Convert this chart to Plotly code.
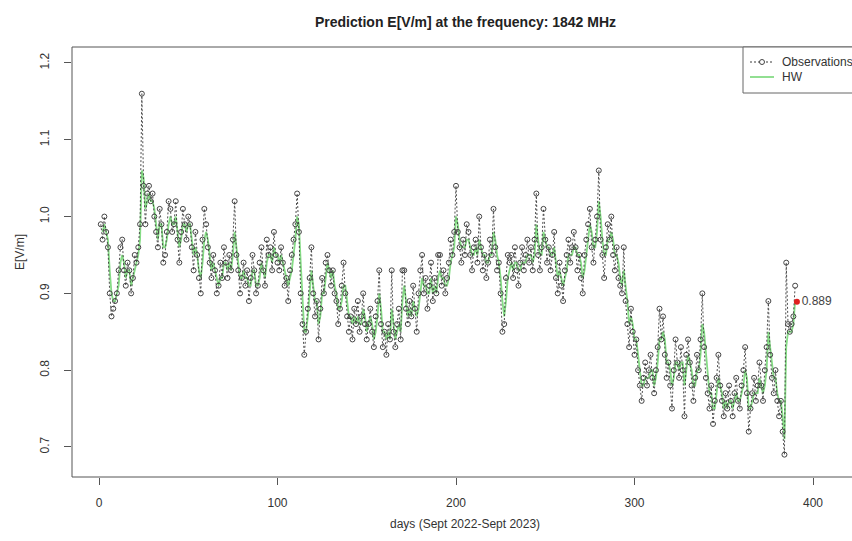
import plotly.graph_objects as go

# Daily electric field observations E [V/m] at 1842 MHz (day 1 .. 390)
obs_values = [
    0.99, 0.97, 1.00, 0.98, 0.96, 0.90, 0.87, 0.88, 0.89, 0.90,
    0.93, 0.96, 0.97, 0.93, 0.91, 0.94, 0.93, 0.90, 0.92, 0.95,
    0.94, 0.96, 0.99, 1.16, 1.04, 0.99, 1.03, 1.04, 1.02, 1.03,
    1.00, 0.98, 0.96, 1.01, 0.99, 0.94, 0.95, 0.98, 1.02, 1.01,
    0.98, 0.99, 1.02, 0.97, 0.94, 0.98, 1.01, 0.99, 0.97, 1.00,
    0.99, 0.96, 0.93, 0.98, 0.95, 0.92, 0.90, 0.97, 1.01, 0.99,
    0.96, 0.94, 0.92, 0.95, 0.93, 0.90, 0.91, 0.94, 0.92, 0.96,
    0.94, 0.92, 0.95, 0.93, 0.97, 1.02, 0.95, 0.93, 0.90, 0.92,
    0.94, 0.91, 0.93, 0.89, 0.92, 0.95, 0.93, 0.90, 0.91, 0.94,
    0.96, 0.93, 0.91, 0.97, 0.95, 0.96, 0.93, 0.98, 0.95, 0.94,
    0.93, 0.96, 0.94, 0.91, 0.92, 0.89, 0.93, 0.95, 0.97, 0.99,
    1.03, 0.98, 0.90, 0.86, 0.82, 0.85, 0.88, 0.92, 0.96, 0.90,
    0.87, 0.89, 0.84, 0.88, 0.92, 0.90, 0.94, 0.95, 0.93, 0.91,
    0.93, 0.90, 0.89, 0.86, 0.88, 0.91, 0.94, 0.90, 0.87, 0.85,
    0.87, 0.84, 0.88, 0.86, 0.89, 0.85, 0.87, 0.90, 0.86, 0.84,
    0.86, 0.88, 0.85, 0.83, 0.87, 0.89, 0.93, 0.86, 0.83, 0.85,
    0.82, 0.86, 0.84, 0.93, 0.85, 0.83, 0.86, 0.88, 0.84, 0.93,
    0.93, 0.88, 0.86, 0.89, 0.87, 0.91, 0.88, 0.85, 0.90, 0.93,
    0.95, 0.90, 0.92, 0.88, 0.91, 0.94, 0.89, 0.92, 0.90, 0.95,
    0.95, 0.91, 0.93, 0.90, 0.92, 0.94, 0.97, 0.95, 0.98, 1.04,
    0.98, 0.96, 0.94, 0.97, 0.95, 0.99, 0.98, 0.95, 0.93, 0.96,
    0.97, 0.94, 1.00, 0.96, 0.93, 0.95, 0.92, 0.94, 0.97, 0.95,
    1.01, 0.96, 0.93, 0.94, 0.90, 0.85, 0.86, 0.92, 0.95, 0.94,
    0.95, 0.92, 0.96, 0.93, 0.91, 0.94, 0.96, 0.93, 0.95, 0.97,
    0.94, 0.96, 0.93, 0.97, 1.03, 0.95, 0.93, 0.96, 1.01, 0.97,
    0.94, 0.96, 0.93, 0.95, 0.98, 0.92, 0.90, 0.94, 0.91, 0.89,
    0.93, 0.95, 0.97, 0.94, 0.96, 0.98, 0.96, 0.93, 0.95, 0.92,
    0.90, 0.95, 0.97, 0.99, 1.01, 0.96, 0.94, 0.97, 1.00, 1.06,
    0.97, 0.95, 0.92, 0.96, 0.99, 0.97, 1.00, 0.95, 0.93, 0.96,
    0.92, 0.91, 0.90, 0.96, 0.89, 0.86, 0.83, 0.88, 0.85, 0.82,
    0.84, 0.80, 0.78, 0.76, 0.79, 0.81, 0.78, 0.80, 0.82, 0.79,
    0.77, 0.80, 0.83, 0.88, 0.84, 0.87, 0.82, 0.79, 0.81, 0.78,
    0.75, 0.80, 0.84, 0.81, 0.79, 0.83, 0.80, 0.74, 0.82, 0.84,
    0.81, 0.78, 0.76, 0.79, 0.82, 0.80, 0.84, 0.90, 0.83, 0.79,
    0.77, 0.75, 0.78, 0.73, 0.76, 0.79, 0.82, 0.78, 0.76, 0.74,
    0.77, 0.75, 0.78, 0.76, 0.74, 0.77, 0.79, 0.76, 0.75, 0.78,
    0.80, 0.83, 0.77, 0.72, 0.75, 0.77, 0.79, 0.76, 0.78, 0.81,
    0.78, 0.76, 0.80, 0.83, 0.89, 0.82, 0.79, 0.77, 0.80, 0.76,
    0.74, 0.76, 0.72, 0.69, 0.94, 0.86, 0.85, 0.86, 0.87, 0.91,
]
obs_days = list(range(1, len(obs_values) + 1))

# Holt-Winters fitted values (day 2 .. 390)
hw_values = [
          0.98, 0.99, 0.98, 0.97, 0.93, 0.90, 0.89, 0.89, 0.90,
    0.91, 0.94, 0.95, 0.94, 0.92, 0.93, 0.93, 0.91, 0.92, 0.93,
    0.94, 0.95, 0.97, 1.06, 1.05, 1.01, 1.02, 1.03, 1.02, 1.02,
    1.01, 0.99, 0.97, 0.99, 0.99, 0.96, 0.96, 0.97, 0.99, 1.00,
    0.99, 0.99, 1.00, 0.98, 0.96, 0.97, 0.99, 0.99, 0.98, 0.99,
    0.99, 0.97, 0.95, 0.96, 0.95, 0.93, 0.92, 0.94, 0.97, 0.98,
    0.97, 0.95, 0.93, 0.94, 0.93, 0.92, 0.91, 0.92, 0.92, 0.94,
    0.94, 0.93, 0.94, 0.93, 0.95, 0.98, 0.96, 0.94, 0.92, 0.92,
    0.93, 0.92, 0.92, 0.91, 0.91, 0.93, 0.93, 0.91, 0.91, 0.92,
    0.94, 0.93, 0.92, 0.94, 0.95, 0.95, 0.94, 0.96, 0.95, 0.95,
    0.94, 0.95, 0.94, 0.93, 0.92, 0.91, 0.92, 0.93, 0.95, 0.97,
    1.00, 0.99, 0.94, 0.90, 0.85, 0.85, 0.87, 0.90, 0.93, 0.91,
    0.89, 0.89, 0.86, 0.87, 0.90, 0.90, 0.92, 0.94, 0.93, 0.92,
    0.93, 0.91, 0.90, 0.88, 0.88, 0.89, 0.91, 0.91, 0.89, 0.87,
    0.87, 0.86, 0.87, 0.86, 0.87, 0.86, 0.86, 0.88, 0.87, 0.85,
    0.86, 0.87, 0.86, 0.84, 0.85, 0.87, 0.90, 0.88, 0.85, 0.85,
    0.84, 0.85, 0.84, 0.88, 0.86, 0.84, 0.85, 0.86, 0.85, 0.89,
    0.91, 0.89, 0.87, 0.88, 0.87, 0.89, 0.88, 0.87, 0.88, 0.90,
    0.92, 0.91, 0.91, 0.90, 0.90, 0.92, 0.90, 0.91, 0.90, 0.92,
    0.93, 0.92, 0.92, 0.91, 0.91, 0.92, 0.94, 0.95, 0.96, 1.00,
    0.99, 0.97, 0.96, 0.96, 0.96, 0.97, 0.97, 0.96, 0.95, 0.95,
    0.96, 0.95, 0.97, 0.96, 0.95, 0.95, 0.94, 0.94, 0.95, 0.95,
    0.98, 0.97, 0.95, 0.94, 0.92, 0.89, 0.87, 0.89, 0.92, 0.93,
    0.94, 0.93, 0.94, 0.94, 0.93, 0.93, 0.94, 0.94, 0.94, 0.95,
    0.95, 0.95, 0.94, 0.95, 0.99, 0.97, 0.95, 0.95, 0.98, 0.97,
    0.96, 0.96, 0.95, 0.95, 0.96, 0.94, 0.92, 0.93, 0.92, 0.91,
    0.92, 0.93, 0.95, 0.95, 0.95, 0.96, 0.96, 0.95, 0.95, 0.94,
    0.92, 0.93, 0.95, 0.97, 0.99, 0.98, 0.96, 0.96, 0.98, 1.02,
    1.00, 0.97, 0.95, 0.95, 0.97, 0.97, 0.98, 0.97, 0.95, 0.95,
    0.94, 0.92, 0.91, 0.93, 0.91, 0.89, 0.86, 0.87, 0.86, 0.84,
    0.84, 0.82, 0.80, 0.78, 0.78, 0.79, 0.79, 0.79, 0.80, 0.80,
    0.78, 0.79, 0.81, 0.84, 0.84, 0.85, 0.84, 0.81, 0.81, 0.80,
    0.78, 0.79, 0.81, 0.81, 0.80, 0.81, 0.81, 0.78, 0.80, 0.82,
    0.81, 0.80, 0.78, 0.78, 0.80, 0.80, 0.82, 0.86, 0.85, 0.82,
    0.80, 0.77, 0.77, 0.75, 0.75, 0.77, 0.79, 0.78, 0.77, 0.75,
    0.76, 0.75, 0.76, 0.76, 0.75, 0.76, 0.77, 0.76, 0.76, 0.77,
    0.78, 0.80, 0.79, 0.75, 0.75, 0.76, 0.77, 0.77, 0.77, 0.79,
    0.78, 0.77, 0.78, 0.80, 0.85, 0.83, 0.81, 0.79, 0.79, 0.77,
    0.76, 0.76, 0.74, 0.71, 0.83, 0.85, 0.85, 0.85, 0.86, 0.89,
]
hw_days = list(range(2, 2 + len(hw_values)))

# One-step-ahead prediction
pred_day = [391]
pred_value = [0.889]

x_ticks = [0, 100, 200, 300, 400]
y_ticks = [0.7, 0.8, 0.9, 1.0, 1.1, 1.2]

TITLE = "Prediction E[V/m] at the frequency: 1842 MHz"
X_LABEL = "days (Sept 2022-Sept 2023)"
Y_LABEL = "E[V/m]"

W, H = 852, 541
ML, MT, MB = 72, 47, 64
PW, PH = W - ML, H - MT - MB
FONT = "Liberation Sans, Arial, sans-serif"
TXT = "#333333"
OBS_COLOR = "#444444"
HW_COLOR = "#86dc86"


def px(xp):
    return (xp - ML) / PW


def py(yp):
    return (H - MB - yp) / PH


fig = go.Figure()

fig.add_trace(go.Scatter(
    x=hw_days, y=hw_values, mode="lines", name="HW",
    line=dict(color=HW_COLOR, width=1.8),
    showlegend=False, hoverinfo="skip",
))
fig.add_trace(go.Scatter(
    x=obs_days, y=obs_values, mode="lines+markers", name="Observations",
    line=dict(color="#3a3a3a", width=0.9, dash="2px,2px"),
    marker=dict(symbol="circle-open", size=5, color=OBS_COLOR,
                line=dict(width=1, color=OBS_COLOR)),
    showlegend=False,
))
fig.add_trace(go.Scatter(
    x=pred_day, y=pred_value, mode="markers+text",
    marker=dict(color="#e02020", size=6),
    text=[f"{v:.3f}" for v in pred_value], textposition="middle right",
    textfont=dict(family=FONT, size=12, color="#444444"),
    showlegend=False,
))

shapes = [
    # plot frame (continues past the right edge of the page)
    dict(type="rect", xref="paper", yref="paper", x0=0, x1=px(858), y0=0, y1=1,
         line=dict(color="#555555", width=1)),
    # legend box
    dict(type="rect", xref="paper", yref="paper", x0=px(743), x1=px(860),
         y0=py(93), y1=py(47), line=dict(color="#666666", width=1),
         fillcolor="white", layer="above"),
    dict(type="line", xref="paper", yref="paper", x0=px(750), x1=px(774),
         y0=py(62), y1=py(62), line=dict(color="#3a3a3a", width=1, dash="2px,2px")),
    dict(type="circle", xref="paper", yref="paper", xsizemode="pixel", ysizemode="pixel",
         xanchor=px(762), yanchor=py(62), x0=-2.5, x1=2.5, y0=-2.5, y1=2.5,
         line=dict(color=OBS_COLOR, width=1), fillcolor="white"),
    dict(type="line", xref="paper", yref="paper", x0=px(750), x1=px(774),
         y0=py(77), y1=py(77), line=dict(color=HW_COLOR, width=1.8)),
]


def label(text, xp, yp, size=12, xanchor="center", angle=0, color=TXT):
    return dict(text=text, xref="paper", yref="paper", x=px(xp), y=py(yp),
                xanchor=xanchor, yanchor="middle", showarrow=False,
                textangle=angle, font=dict(family=FONT, size=size, color=color))


annotations = [
    label(f"<b>{TITLE}</b>", 465, 22, size=14, color="#222222"),
    label(X_LABEL, 465, 524),
    label(Y_LABEL, 20, 252, angle=-90),
    label("Observations", 780, 62, xanchor="left"),
    label("HW", 780, 77, xanchor="left"),
]

fig.update_layout(
    width=W, height=H,
    margin=dict(l=ML, r=0, t=MT, b=MB, pad=0),
    paper_bgcolor="white", plot_bgcolor="white",
    showlegend=False,
    shapes=shapes, annotations=annotations,
    font=dict(family=FONT, size=12, color=TXT),
    xaxis=dict(range=[-15.13, 421.85], tickvals=x_ticks, ticks="outside",
               ticklen=7, tickcolor="#555555", showgrid=False, zeroline=False,
               showline=False, ticklabelstandoff=8,
               tickfont=dict(family=FONT, size=12, color=TXT)),
    yaxis=dict(range=[0.6609, 1.2208], tickvals=y_ticks, tickformat=".1f",
               ticks="outside", ticklen=7, tickcolor="#555555", showgrid=False,
               zeroline=False, showline=False, tickangle=-90, ticklabelstandoff=10,
               tickfont=dict(family=FONT, size=12, color=TXT)),
)

fig.write_html("out.html")
